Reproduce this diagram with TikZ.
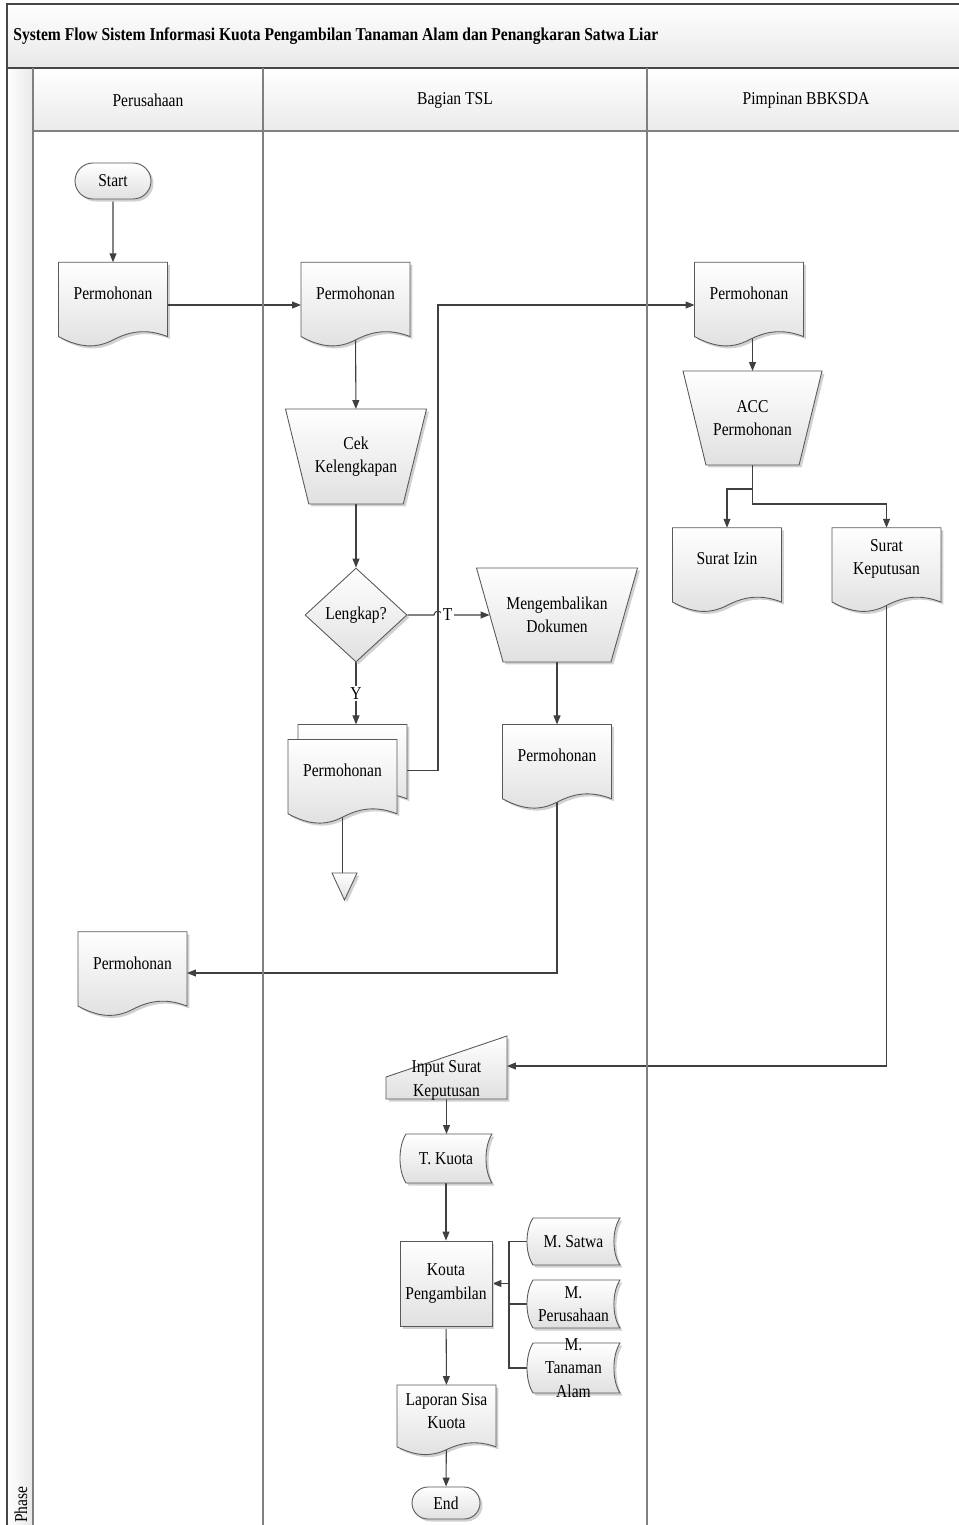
\documentclass[tikz,border=0pt]{standalone}
\usepackage{fontspec}
\setmainfont{Liberation Serif}[FakeStretch=0.86]
\usepackage{tikz}
\usetikzlibrary{positioning, shapes.geometric, shapes.misc, shadows, arrows.meta, calc}

\pgfdeclarelayer{bayang}
\pgfdeclarelayer{garis}
\pgfdeclarelayer{bentuk}
\pgfsetlayers{bayang,garis,bentuk,main}

\newdimen\pxu
\pxu=0.02cm

\tikzstyle{every node}=[font=\fontsize{10.3}{13.4}\selectfont, align=center, inner sep=0pt]
\tikzstyle{isi} = [draw=black!65, line width=0.5pt, top color=white, bottom color=black!12]
\tikzstyle{bayangan} = [fill=black!18]
\tikzstyle{berbayang} = [drop shadow={shadow xshift=0.05cm, shadow yshift=-0.05cm, fill=black!18, opacity=1}]
\tikzstyle{startstop} = [rounded rectangle, isi, berbayang]
\tikzstyle{process} = [rectangle, isi, berbayang]
\tikzstyle{decision} = [diamond, isi, berbayang]
\tikzstyle{manual} = [rectangle, outer sep=0pt, minimum height=1.88cm]
\tikzstyle{doc} = [rectangle, outer sep=0pt, minimum width=2.18cm, minimum height=1.25cm]
\tikzstyle{simpan} = [rectangle, outer sep=0pt, minimum width=1.86cm, minimum height=0.96cm]
\tikzstyle{masuk} = [rectangle, outer sep=0pt, minimum width=2.42cm, minimum height=0.74cm, inner ysep=-0.1cm]
\tikzstyle{arsip} = [rectangle, outer sep=0pt, minimum width=0.5cm, minimum height=0.54cm]
\tikzstyle{arrow} = [line width=0.6pt, draw=black!75, -{Triangle[length=0.18cm, width=0.14cm]}]
\tikzstyle{line} = [line width=0.6pt, draw=black!75]
\tikzstyle{lbl} = [fill=white, inner sep=1pt]
\tikzstyle{lane} = [line width=0.6pt, draw=black!50]
\tikzstyle{frame} = [line width=0.9pt, draw=black!72]

% garis tepi bentuk, satuan = kotak node
\def\dokpath{(0,0) -- (1,0) -- (1,1.189) .. controls (0.8,1.054) and (0.65,1.108) .. (0.5,1.243) .. controls (0.35,1.378) and (0.2,1.378) .. (0,1.189) -- cycle}
\def\simpanpath{(0.065,0) -- (1,0) .. controls (0.913,0.25) and (0.913,0.75) .. (1,1) -- (0.065,1) .. controls (-0.022,0.75) and (-0.022,0.25) .. (0.065,0) -- cycle}
\def\manualpath{(0,0) -- (1,0) -- (0.835,1) -- (0.165,1) -- cycle}
\def\masukpath{(0,0.405) -- (1,-0.703) -- (1,1) -- (0,1) -- cycle}
\def\arsippath{(0,0) -- (1,0) -- (0.5,1) -- cycle}

\newcommand\gambar[3][]{%
  \pgfpointdiff{\pgfpointanchor{#2}{north west}}{\pgfpointanchor{#2}{south east}}%
  \pgfgetlastxy{\lebar}{\tinggi}%
  \begin{pgfonlayer}{bayang}
    \fill[bayangan, shift={(#2.north west)}, #1, xshift=0.05cm, yshift=-0.05cm, x=\lebar, y=\tinggi] #3;
  \end{pgfonlayer}
  \begin{pgfonlayer}{bentuk}
    \draw[isi, shift={(#2.north west)}, #1, x=\lebar, y=\tinggi] #3;
  \end{pgfonlayer}}

\begin{document}
\begin{tikzpicture}[x=\pxu, y=-\pxu]
		\useasboundingbox (0,0) rectangle (959,1525);
		
		%bingkai dan jalur
		\shade[top color=white, bottom color=black!9] (7,4) rectangle (959,68);
		\shade[top color=white, bottom color=black!8] (33,68) rectangle (959,131);
		\shade[left color=white, right color=black!9] (7,68) rectangle (33,1525);
		\draw[frame] (7,1525) -- (7,4) -- (959,4);
		\draw[frame] (7,68) -- (959,68);
		\draw[lane] (33,131) -- (959,131);
		\foreach \x in {33,263,647} \draw[lane] (\x,68) -- (\x,1525);
		
		\node (judul) [anchor=west, font=\fontsize{10.3}{13.4}\selectfont\bfseries] at (13,36) {System Flow Sistem Informasi Kuota Pengambilan Tanaman Alam dan Penangkaran Satwa Liar};
		\node (hPer) at (148,100) {Perusahaan};
		\node (hTSL) at (455,100) {Bagian TSL};
		\node (hPim) at (806,100) {Pimpinan BBKSDA};
		\node (fase) [rotate=90, anchor=west] at (21,1523) {Phase};
		
		%bentuk alur
		\node (start) [startstop, minimum width=1.52cm, minimum height=0.72cm] at (113,181) {Start};
		\node (pmhA) [doc] at (113,293.5) {Permohonan};
		\node (pmhB) [doc] at (355.5,293.5) {Permohonan};
		\node (cek) [manual, minimum width=2.82cm, minimum height=1.9cm] at (356,456.5) {Cek\\Kelengkapan};
		\node (lengkap) [decision, minimum width=2.04cm, minimum height=1.88cm] at (356,615) {Lengkap?};
		\node (kembali) [manual, minimum width=3.22cm] at (557,615) {Mengembalikan\\Dokumen};
		\node (pmhD) [doc] at (342.5,770.7) {Permohonan};
		\node (pmhE) [doc] at (557,755.7) {Permohonan};
		\node (arsip) [arsip] at (344.5,886.5) {};
		\node (pmhF) [doc] at (132.5,963) {Permohonan};
		\node (pmhC) [doc] at (749,293.5) {Permohonan};
		\node (acc) [manual, minimum width=2.78cm] at (752.5,418) {ACC\\Permohonan};
		\node (izin) [doc] at (727,559) {Surat Izin};
		\node (kep) [doc] at (886.5,559) {Surat\\Keputusan};
		\node (input) [masuk] at (446.5,1080.5) {Input Surat\\Keputusan};
		\node (tkuota) [simpan, minimum width=1.84cm, minimum height=0.98cm] at (446,1158.5) {T. Kuota};
		\node (kouta) [process, minimum width=1.84cm, minimum height=1.7cm] at (446,1283.5) {Kouta\\Pengambilan};
		\node (msatwa) [simpan, minimum height=0.94cm] at (573.5,1241.5) {M. Satwa};
		\node (mperus) [simpan] at (573.5,1304) {M.\\Perusahaan};
		\node (mtanam) [simpan, minimum height=1cm, inner ysep=-0.2cm] at (573.5,1368) {M.\\Tanaman\\Alam};
		\node (laporan) [doc, minimum width=1.98cm, minimum height=1.04cm] at (446.5,1411) {Laporan Sisa\\Kuota};
		\node (finish) [startstop, minimum width=1.36cm, minimum height=0.64cm] at (446,1503) {End};
		\coordinate (pmhDtop) at ([xshift=0.2cm, yshift=0.3cm]pmhD.north);
		\coordinate (sambung) at (509,1283.5);
		
		%gambar tepi bentuk
		\gambar[xshift=0.2cm, yshift=0.3cm]{pmhD}{\dokpath}
		\foreach \n in {pmhA,pmhB,pmhC,pmhD,pmhE,pmhF,izin,kep,laporan} {\gambar{\n}{\dokpath}}
		\foreach \n in {tkuota,msatwa,mperus,mtanam} {\gambar{\n}{\simpanpath}}
		\foreach \n in {cek,kembali,acc} {\gambar{\n}{\manualpath}}
		\gambar{input}{\masukpath}
		\gambar{arsip}{\arsippath}
		
		%hubungkan bentuk
		\begin{pgfonlayer}{garis}
		\draw [arrow](start) -- (pmhA);
		\draw [arrow]([yshift=-0.23cm]pmhA.east) -- ([yshift=-0.23cm]pmhB.west);
		\draw [arrow](pmhB) -- (cek);
		\draw [arrow](cek) -- (lengkap);
		\draw [arrow](lengkap) -- (434,615) arc[start angle=180, end angle=360, radius=4] -- node[lbl, pos=0.12] (lblT) {T} ([xshift=0.26cm]kembali.west);
		\draw [arrow](lengkap) -- node[lbl] (lblY) {Y} (lengkap |- pmhDtop);
		\draw [arrow]([xshift=0.2cm]pmhD.east) -- ++(31,0) |- ([yshift=-0.23cm]pmhC.west);
		\draw [line](pmhD) -- (pmhD |- arsip.north);
		\draw [arrow](kembali) -- (pmhE);
		\draw [arrow](pmhE) |- ([yshift=-0.2cm]pmhF.east);
		\draw [arrow](acc |- pmhC) -- (acc);
		\draw [arrow](acc.center) -- ++(0,71) -| (izin);
		\draw [arrow](acc.center) -- ++(0,86) -| (kep);
		\draw [arrow](kep) |- ([yshift=-0.08cm]input.north east);
		\draw [arrow](input) -- (input |- tkuota.north);
		\draw [arrow](tkuota) -- (kouta);
		\foreach \m in {msatwa,mperus,mtanam} \draw [line](\m.west) -| (sambung);
		\draw [arrow](sambung) -- (kouta);
		\draw [arrow](kouta) -- (laporan);
		\draw [arrow](laporan) -- (finish);
		\end{pgfonlayer}
		
	\end{tikzpicture}
\end{document}
